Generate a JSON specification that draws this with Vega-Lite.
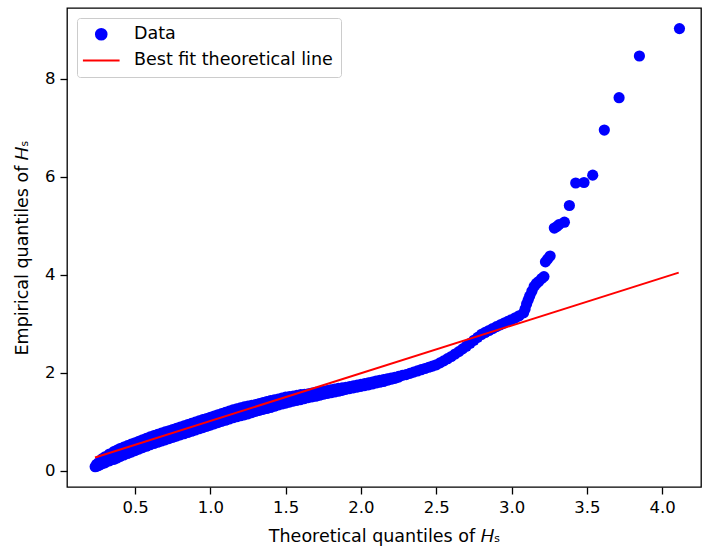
{
  "$schema": "https://vega.github.io/schema/vega-lite/v6.json",
  "autosize": {"type": "none"},
  "padding": {"left": 67, "top": 8, "right": 1, "bottom": 62},
  "width": 634,
  "height": 479,
  "background": "white",
  "datasets": {
    "pts": [
      {"x":0.235,"y":0.08},
      {"x":0.245,"y":0.13},{"x":0.245,"y":0.09},
      {"x":0.26,"y":0.17},{"x":0.26,"y":0.11},
      {"x":0.28,"y":0.24},{"x":0.28,"y":0.14},
      {"x":0.30,"y":0.28},{"x":0.30,"y":0.16},
      {"x":0.33,"y":0.34},{"x":0.33,"y":0.20},
      {"x":0.36,"y":0.39},{"x":0.36,"y":0.23},
      {"x":0.38,"y":0.42},{"x":0.38,"y":0.26},
      {"x":0.40,"y":0.45},{"x":0.40,"y":0.29},
      {"x":0.425,"y":0.48},{"x":0.425,"y":0.32},
      {"x":0.45,"y":0.51},{"x":0.45,"y":0.35},
      {"x":0.475,"y":0.54},{"x":0.475,"y":0.38},
      {"x":0.50,"y":0.57},{"x":0.50,"y":0.41},
      {"x":0.525,"y":0.60},{"x":0.525,"y":0.44},
      {"x":0.55,"y":0.63},{"x":0.55,"y":0.47},
      {"x":0.575,"y":0.66},{"x":0.575,"y":0.50},
      {"x":0.60,"y":0.69},{"x":0.60,"y":0.53},
      {"x":0.625,"y":0.715},{"x":0.625,"y":0.555},
      {"x":0.65,"y":0.74},{"x":0.65,"y":0.58},
      {"x":0.675,"y":0.765},{"x":0.675,"y":0.605},
      {"x":0.70,"y":0.79},{"x":0.70,"y":0.63},
      {"x":0.725,"y":0.815},{"x":0.725,"y":0.655},
      {"x":0.75,"y":0.84},{"x":0.75,"y":0.68},
      {"x":0.775,"y":0.865},{"x":0.775,"y":0.705},
      {"x":0.80,"y":0.89},{"x":0.80,"y":0.73},
      {"x":0.825,"y":0.915},{"x":0.825,"y":0.755},
      {"x":0.85,"y":0.94},{"x":0.85,"y":0.78},
      {"x":0.875,"y":0.965},{"x":0.875,"y":0.805},
      {"x":0.90,"y":0.99},{"x":0.90,"y":0.83},
      {"x":0.925,"y":1.015},{"x":0.925,"y":0.855},
      {"x":0.95,"y":1.04},{"x":0.95,"y":0.88},
      {"x":0.975,"y":1.065},{"x":0.975,"y":0.905},
      {"x":1.00,"y":1.09},{"x":1.00,"y":0.93},
      {"x":1.025,"y":1.115},{"x":1.025,"y":0.955},
      {"x":1.05,"y":1.14},{"x":1.05,"y":0.98},
      {"x":1.075,"y":1.165},{"x":1.075,"y":1.005},
      {"x":1.10,"y":1.19},{"x":1.10,"y":1.03},
      {"x":1.125,"y":1.215},{"x":1.125,"y":1.055},
      {"x":1.15,"y":1.24},{"x":1.15,"y":1.08},
      {"x":1.175,"y":1.26},{"x":1.175,"y":1.10},
      {"x":1.20,"y":1.28},{"x":1.20,"y":1.12},
      {"x":1.225,"y":1.30},{"x":1.225,"y":1.14},
      {"x":1.25,"y":1.32},{"x":1.25,"y":1.16},
      {"x":1.275,"y":1.335},{"x":1.275,"y":1.185},
      {"x":1.30,"y":1.35},{"x":1.30,"y":1.21},
      {"x":1.325,"y":1.37},{"x":1.325,"y":1.23},
      {"x":1.35,"y":1.39},{"x":1.35,"y":1.25},
      {"x":1.375,"y":1.41},{"x":1.375,"y":1.27},
      {"x":1.40,"y":1.43},{"x":1.40,"y":1.29},
      {"x":1.425,"y":1.445},{"x":1.425,"y":1.315},
      {"x":1.45,"y":1.46},{"x":1.45,"y":1.34},
      {"x":1.475,"y":1.48},{"x":1.475,"y":1.36},
      {"x":1.50,"y":1.50},{"x":1.50,"y":1.38},
      {"x":1.525,"y":1.51},{"x":1.525,"y":1.40},
      {"x":1.55,"y":1.52},{"x":1.55,"y":1.42},
      {"x":1.575,"y":1.535},{"x":1.575,"y":1.435},
      {"x":1.60,"y":1.55},{"x":1.60,"y":1.45},
      {"x":1.625,"y":1.56},{"x":1.625,"y":1.47},
      {"x":1.65,"y":1.57},{"x":1.65,"y":1.49},
      {"x":1.675,"y":1.585},{"x":1.675,"y":1.505},
      {"x":1.70,"y":1.60},{"x":1.70,"y":1.52},
      {"x":1.725,"y":1.61},{"x":1.725,"y":1.54},
      {"x":1.75,"y":1.62},{"x":1.75,"y":1.56},
      {"x":1.775,"y":1.635},{"x":1.775,"y":1.575},
      {"x":1.80,"y":1.65},{"x":1.80,"y":1.59},
      {"x":1.825,"y":1.665},{"x":1.825,"y":1.605},
      {"x":1.85,"y":1.68},{"x":1.85,"y":1.62},
      {"x":1.875,"y":1.69},{"x":1.875,"y":1.64},
      {"x":1.90,"y":1.70},{"x":1.90,"y":1.66},
      {"x":1.925,"y":1.715},{"x":1.925,"y":1.675},
      {"x":1.95,"y":1.73},{"x":1.95,"y":1.69},
      {"x":1.975,"y":1.745},{"x":1.975,"y":1.705},
      {"x":2.00,"y":1.76},{"x":2.00,"y":1.72},
      {"x":2.025,"y":1.775},{"x":2.025,"y":1.735},
      {"x":2.05,"y":1.79},{"x":2.05,"y":1.75},
      {"x":2.075,"y":1.81},{"x":2.075,"y":1.77},
      {"x":2.10,"y":1.83},{"x":2.10,"y":1.79},
      {"x":2.125,"y":1.845},{"x":2.125,"y":1.805},
      {"x":2.15,"y":1.86},{"x":2.15,"y":1.82},
      {"x":2.175,"y":1.875},{"x":2.175,"y":1.845},
      {"x":2.20,"y":1.89},{"x":2.20,"y":1.865},
      {"x":2.225,"y":1.905},{"x":2.225,"y":1.885},
      {"x":2.25,"y":1.925},{"x":2.25,"y":1.91},
      {"x":2.275,"y":1.945},
      {"x":2.30,"y":1.96},
      {"x":2.325,"y":1.985},
      {"x":2.35,"y":2.01},
      {"x":2.375,"y":2.035},
      {"x":2.40,"y":2.06},
      {"x":2.425,"y":2.085},
      {"x":2.45,"y":2.11},
      {"x":2.475,"y":2.135},
      {"x":2.50,"y":2.16},
      {"x":2.525,"y":2.20},
      {"x":2.55,"y":2.24},
      {"x":2.575,"y":2.285},
      {"x":2.60,"y":2.33},
      {"x":2.625,"y":2.38},
      {"x":2.65,"y":2.43},
      {"x":2.675,"y":2.485},
      {"x":2.70,"y":2.54},
      {"x":2.725,"y":2.60},
      {"x":2.75,"y":2.66},
      {"x":2.775,"y":2.72},
      {"x":2.80,"y":2.78},
      {"x":2.825,"y":2.82},
      {"x":2.85,"y":2.86},
      {"x":2.875,"y":2.90},
      {"x":2.90,"y":2.94},
      {"x":2.925,"y":2.975},
      {"x":2.95,"y":3.01},
      {"x":2.975,"y":3.045},
      {"x":3.00,"y":3.08},
      {"x":3.025,"y":3.12},
      {"x":3.05,"y":3.16},
      {"x":3.08,"y":3.22},
      {"x":3.09,"y":3.30},
      {"x":3.10,"y":3.40},
      {"x":3.11,"y":3.48},
      {"x":3.12,"y":3.56},
      {"x":3.135,"y":3.66},
      {"x":3.15,"y":3.76},
      {"x":3.165,"y":3.82},
      {"x":3.18,"y":3.86},
      {"x":3.20,"y":3.92},
      {"x":3.215,"y":3.96},
      {"x":3.225,"y":4.26},
      {"x":3.24,"y":4.32},
      {"x":3.256,"y":4.38},
      {"x":3.284,"y":4.95},
      {"x":3.30,"y":4.98},
      {"x":3.315,"y":5.02},
      {"x":3.351,"y":5.07},
      {"x":3.384,"y":5.41},
      {"x":3.426,"y":5.87},
      {"x":3.481,"y":5.88},
      {"x":3.539,"y":6.03},
      {"x":3.616,"y":6.95},
      {"x":3.714,"y":7.61},
      {"x":3.849,"y":8.46},
      {"x":4.115,"y":9.02}
    ],
    "fit": [
      {"x":0.234,"y":0.27},
      {"x":4.11,"y":4.04}
    ]
  },
  "layer": [
    {
      "data": {"name": "pts"},
      "transform": [{"calculate": "'Data'", "as": "series"}],
      "mark": {"type": "point", "filled": true, "opacity": 1, "size": 125},
      "encoding": {
        "x": {"field": "x", "type": "quantitative"},
        "y": {"field": "y", "type": "quantitative"},
        "color": {"field": "series", "type": "nominal"}
      }
    },
    {
      "data": {"name": "fit"},
      "transform": [{"calculate": "'Best fit theoretical line'", "as": "series"}],
      "mark": {"type": "line", "strokeWidth": 2},
      "encoding": {
        "x": {"field": "x", "type": "quantitative"},
        "y": {"field": "y", "type": "quantitative"},
        "color": {"field": "series", "type": "nominal"}
      }
    }
  ],
  "encoding": {
    "x": {
      "field": "x", "type": "quantitative",
      "title": "Theoretical quantiles of 𝐻ₛ",
      "scale": {"domain": [0.048, 4.258], "nice": false, "zero": false},
      "axis": {"values": [0.5, 1.0, 1.5, 2.0, 2.5, 3.0, 3.5, 4.0], "format": ".1f"}
    },
    "y": {
      "field": "y", "type": "quantitative",
      "title": "Empirical quantiles of 𝐻ₛ",
      "scale": {"domain": [-0.333, 9.44], "nice": false, "zero": false},
      "axis": {"values": [0, 2, 4, 6, 8], "format": "d"}
    },
    "color": {
      "field": "series", "type": "nominal",
      "scale": {"domain": ["Data", "Best fit theoretical line"], "range": ["#0000ff", "#ff0000"]},
      "legend": {
        "title": null,
        "orient": "top-left",
        "offset": 10,
        "padding": 7.5,
        "fillColor": "white",
        "strokeColor": "#cccccc",
        "cornerRadius": 3,
        "labelFontSize": 17.5,
        "labelColor": "black",
        "labelFont": "DejaVu Sans",
        "labelLimit": 400,
        "symbolSize": 113,
        "symbolOffset": 8,
        "labelOffset": 24,
        "rowPadding": 6.2,
        "encode": {
          "symbols": {
            "update": {
              "shape": {"signal": "datum.value === 'Data' ? 'circle' : 'M-3.45,0H3.45'"},
              "fill": {"signal": "datum.value === 'Data' ? '#0000ff' : 'transparent'"},
              "stroke": {"signal": "datum.value === 'Data' ? 'transparent' : '#ff0000'"},
              "strokeWidth": {"value": 2},
              "opacity": {"value": 1}
            }
          }
        }
      }
    }
  },
  "config": {
    "font": "DejaVu Sans",
    "view": {"stroke": "black", "strokeWidth": 1.3},
    "axis": {
      "grid": false,
      "domain": false,
      "tickColor": "black",
      "tickSize": 7,
      "tickWidth": 1.3,
      "labelFont": "DejaVu Sans",
      "labelFontSize": 16.5,
      "labelColor": "black",
      "labelPadding": 5,
      "titleFont": "DejaVu Sans",
      "titleFontSize": 17.5,
      "titleFontWeight": "normal",
      "titleColor": "black"
    },
    "axisX": {"titlePadding": 12},
    "axisY": {"titlePadding": 13}
  }
}
